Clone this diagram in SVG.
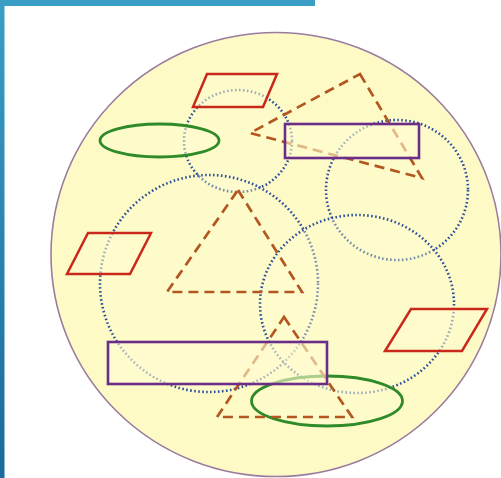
<svg xmlns="http://www.w3.org/2000/svg" width="501" height="478" viewBox="0 0 501 478">
<defs>
<linearGradient id="barL" x1="0" y1="0" x2="0" y2="1">
<stop offset="0" stop-color="#3a9ec6"/>
<stop offset="1" stop-color="#1a6a9c"/>
</linearGradient>
</defs>
<style>
.dot{fill:#fffbd0;fill-opacity:0.35;stroke:#2c4f9a;stroke-width:2.6;stroke-dasharray:1.6 2.4}
.par{fill:#fffbd0;fill-opacity:0.55;stroke:#c9281b;stroke-width:2.5;stroke-linejoin:miter}
.ell{fill:#fffbd0;fill-opacity:0.55;stroke:#2f8a2a;stroke-width:2.8}
.tri{fill:none;stroke:#b4561f;stroke-width:2.7;stroke-dasharray:10 6}
.rec{fill:#fffbd0;fill-opacity:0.6;stroke:#6b2d8a;stroke-width:2.6}
</style>
<rect width="501" height="478" fill="#ffffff"/>
<rect x="0" y="0" width="315" height="6" fill="#3a9ec6"/>
<rect x="0" y="0" width="4.5" height="478" fill="url(#barL)"/>
<g id="universe">
<ellipse cx="276" cy="254.5" rx="225" ry="222" fill="#fdfac6" stroke="#9a7c9e" stroke-width="1.6"/>
</g>
<g id="circles">
<ellipse id="c-right" class="dot" cx="397" cy="190" rx="71" ry="70"/>
<ellipse id="c-top" class="dot" cx="238" cy="141" rx="54" ry="51"/>
<ellipse id="c-bigleft" class="dot" cx="209" cy="283.5" rx="109" ry="108.5"/>
<ellipse id="c-bigright" class="dot" cx="357" cy="304" rx="97" ry="89"/>
</g>
<g id="ellipse-top"><ellipse class="ell" cx="159.5" cy="140.5" rx="59.5" ry="16.5"/></g>
<g id="ellipse-bottom"><ellipse class="ell" cx="327" cy="401" rx="75.5" ry="25"/></g>
<g id="para-top"><polygon class="par" points="207,74 277,74 263,107 193,107"/></g>
<g id="para-left"><polygon class="par" points="88,233 151,233 130,274 67,274"/></g>
<g id="para-right"><polygon class="par" points="411,309 487,309 462,351 385,351"/></g>
<g id="tri-top"><polygon class="tri" points="360,74 422,178 250,133"/></g>
<g id="tri-mid"><polygon class="tri" points="238,190 302,292 167,292"/></g>
<g id="tri-bottom"><polygon class="tri" points="284,317 352,417 217,417"/></g>
<g id="rect-top"><rect class="rec" x="285" y="124" width="134" height="34"/></g>
<g id="rect-bottom"><rect class="rec" x="108" y="342" width="219" height="42"/></g>
</svg>
